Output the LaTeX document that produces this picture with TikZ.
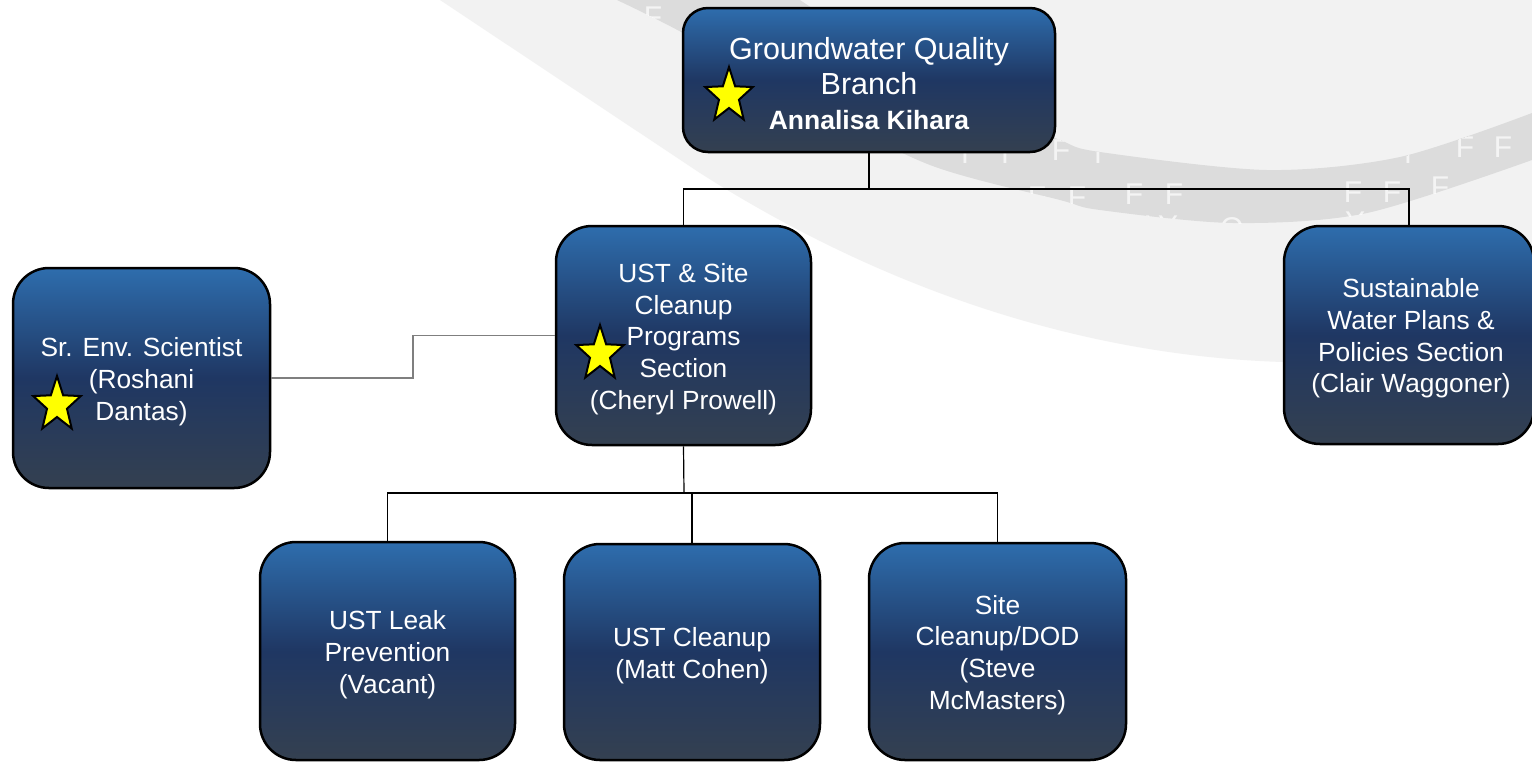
\documentclass[tikz,border=0pt]{standalone}
\usepackage{fontspec}
\setmainfont{Liberation Sans}
\definecolor{boxtop}{HTML}{2E6DAD}
\definecolor{boxmid}{HTML}{1F3763}
\definecolor{boxbot}{HTML}{344050}
\definecolor{paleA}{HTML}{F2F2F2}
\definecolor{bandA}{HTML}{DCDCDC}
\definecolor{starY}{HTML}{FFFF00}
\definecolor{linkgray}{HTML}{7F7F7F}
\begin{document}
\begin{tikzpicture}[x=0.5pt, y=-0.5pt,
  orgbox/.style={draw=black, line width=1.25pt, rounded corners=18pt,
    top color=boxtop, bottom color=boxbot, middle color=boxmid, inner sep=0pt},
  boxtext/.style={text=white, align=center, inner sep=0pt,
    font=\fontsize{13.15pt}{15.85pt}\selectfont},
  tree/.style={draw=black, line width=0.6pt},
  sidelink/.style={draw=linkgray, line width=0.8pt},
  faintglyph/.style={text=white, opacity=0.7, inner sep=0pt,
    font=\fontsize{15pt}{15pt}\selectfont},
  starline/.style={fill=starY, draw=black, line width=1pt, line join=miter},
  ministar/.pic={\filldraw[starline] (270:25 and 29) -- (306:10.5 and 12) -- (342:25 and 29)
     -- (18:10.5 and 12) -- (54:25 and 29) -- (90:10.5 and 12) -- (126:25 and 29)
     -- (162:10.5 and 12) -- (198:25 and 29) -- (234:10.5 and 12) -- cycle;}
]
\useasboundingbox (0,0) rectangle (1532,762);
\fill[white] (0,0) rectangle (1532,762);

% pale backdrop sweep
\fill[paleA] (440,0) -- (700,173) .. controls (860,275) and (1060,355) .. (1283,362)
  -- (1532,362) -- (1532,0) -- cycle;

% darker arc band with faint lettering
\fill[bandA] plot[smooth] coordinates {(617,0) (683,33) (800,100) (930,165) (1060,200) (1100,210) (1233,223) (1367,213) (1532,160)}
  -- plot[smooth] coordinates {(1532,113) (1400,157) (1267,170) (1100,152) (1060,140) (980,105) (900,65) (800,0)} -- cycle;
\begin{scope}
  \clip plot[smooth] coordinates {(617,0) (683,33) (800,100) (930,165) (1060,200) (1100,210) (1233,223) (1367,213) (1532,160)}
    -- plot[smooth] coordinates {(1532,113) (1400,157) (1267,170) (1100,152) (1060,140) (980,105) (900,65) (800,0)} -- cycle;
  \node[faintglyph] (w1) at (653,17) {F};
  \node[faintglyph] (w2) at (965,153) {I};
  \node[faintglyph] (w3) at (1005,153) {I};
  \node[faintglyph] (w4) at (1061,150) {F};
  \node[faintglyph] (w5) at (1098,153) {I};
  \node[faintglyph] (w6) at (993,197) {F};
  \node[faintglyph] (w7) at (1037,197) {F};
  \node[faintglyph] (w8) at (1077,197) {F};
  \node[faintglyph] (w9) at (1134,194) {F};
  \node[faintglyph] (w10) at (1174,194) {F};
  \node[faintglyph] (w11) at (1353,192) {F};
  \node[faintglyph] (w12) at (1392,192) {F};
  \node[faintglyph] (w13) at (1440,187) {F};
  \node[faintglyph] (w14) at (1408,153) {I};
  \node[faintglyph] (w15) at (1465,147) {F};
  \node[faintglyph] (w16) at (1503,147) {F};
  \node[faintglyph] (w17) at (1140,226) {Y};
  \node[faintglyph] (w18) at (1168,226) {Y};
  \node[faintglyph] (w19) at (1232,228) {O};
  \node[faintglyph] (w20) at (1355,222) {Y};
\end{scope}

% organisation boxes
\node[orgbox, rounded corners=12.5pt, minimum width=186pt, minimum height=72pt] (gwq) at (869,80) {};
\node[orgbox, minimum width=128.5pt, minimum height=110pt] (sr) at (141.5,378) {};
\node[orgbox, minimum width=127.5pt, minimum height=109.5pt] (ust) at (683.5,335.5) {};
\node[orgbox, minimum width=125pt, minimum height=109pt] (sust) at (1409,335) {};
\node[orgbox, minimum width=127.5pt, minimum height=109pt] (leak) at (387.5,651) {};
\node[orgbox, minimum width=128pt, minimum height=108pt] (clean) at (692,652) {};
\node[orgbox, minimum width=128.5pt, minimum height=108.5pt] (site) at (997.5,651.5) {};

% box captions
\node[boxtext, font=\fontsize{15.25pt}{17.5pt}\selectfont] (gwqT) at ([yshift=-1.6pt]gwq.center)
  {Groundwater Quality\\Branch\\{\fontsize{13.25pt}{17.5pt}\selectfont\bfseries Annalisa Kihara}};
\node[boxtext] (srT) at ([yshift=-1.75pt]sr.center) {Sr. Env. Scientist\\(Roshani\\Dantas)};
\node[boxtext] (ustT) at ([yshift=-1.75pt]ust.center)
  {UST \& Site\\Cleanup\\Programs\\Section\\(Cheryl Prowell)};
\node[boxtext] (sustT) at ([xshift=1pt,yshift=-1.75pt]sust.center)
  {Sustainable\\Water Plans \&\\Policies Section\\(Clair Waggoner)};
\node[boxtext] (leakT) at ([yshift=-1.75pt]leak.center) {UST Leak\\Prevention\\(Vacant)};
\node[boxtext] (cleanT) at ([yshift=-1.75pt]clean.center) {UST Cleanup\\(Matt Cohen)};
\node[boxtext] (siteT) at ([yshift=-1.75pt]site.center) {Site\\Cleanup/DOD\\(Steve\\McMasters)};

% stars
\pic at (729,96) {ministar};
\pic at (600,354) {ministar};
\pic at (57,405) {ministar};

% reporting lines
\coordinate (j1) at (869,189);
\coordinate (j2) at (684,493);
\coordinate (k1) at (413,378);
\draw[tree] (gwq.south) -- (j1);
\draw[tree] (j1) -| (ust.north);
\draw[tree] (j1) -| (sust.north);
\draw[sidelink] (sr.east) -- (k1) |- (ust.west);
\draw[tree] (ust.south) -- (j2);
\draw[tree] (j2) -| (leak.north);
\draw[tree] (j2) -| (clean.north);
\draw[tree] (j2) -| (site.north);
\end{tikzpicture}
\end{document}
